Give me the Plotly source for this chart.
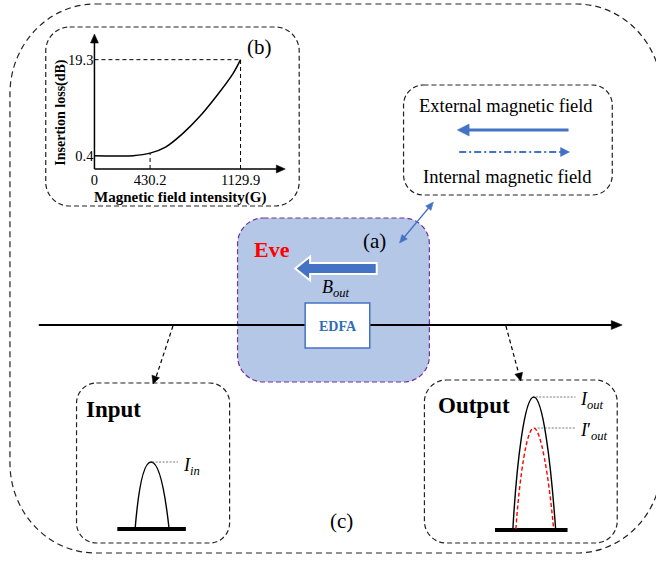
import plotly.graph_objects as go

# ---- inset (b): insertion loss vs. magnetic field intensity ----
mag_field = [0, 150, 300, 430.2, 550, 680, 810, 940, 1070, 1129.9]
insertion_loss = [0.4, 0.35, 0.4, 0.9, 2.1, 4.7, 8.0, 12.0, 16.5, 19.3]
x_tick_vals = [0, 430.2, 1129.9]
x_tick_text = ["0", "430.2", "1129.9"]
y_tick_vals = [0.4, 19.3]
y_tick_text = ["0.4", "19.3"]
knee_field = 430.2
knee_loss = 0.9
max_field = 1129.9
max_loss = 19.3

W, H = 656, 561
SERIF = "Liberation Serif, Times New Roman, serif"
BLUE = "#4472C4"
K = 0.5523

# inset placement (pixels) and axis ranges
INSET_X = (91, 285)
INSET_Y = (169, 33)
INSET_XRANGE = (0, 1491)
INSET_YRANGE = (-2.22, 24.55)


def rrect(x0, y0, x1, y1, rx, ry=None):
    ry = rx if ry is None else ry
    return (
        f"M {x0+rx},{y0} L {x1-rx},{y0} "
        f"C {x1-rx+K*rx},{y0} {x1},{y0+ry-K*ry} {x1},{y0+ry} "
        f"L {x1},{y1-ry} "
        f"C {x1},{y1-ry+K*ry} {x1-rx+K*rx},{y1} {x1-rx},{y1} "
        f"L {x0+rx},{y1} "
        f"C {x0+rx-K*rx},{y1} {x0},{y1-ry+K*ry} {x0},{y1-ry} "
        f"L {x0},{y0+ry} "
        f"C {x0},{y0+ry-K*ry} {x0+rx-K*rx},{y0} {x0+rx},{y0} Z"
    )


def head(tip, src, length, half):
    tx, ty = tip
    dx, dy = tx - src[0], ty - src[1]
    n = (dx * dx + dy * dy) ** 0.5
    ux, uy = dx / n, dy / n
    bx, by = tx - length * ux, ty - length * uy
    px, py = -uy, ux
    return (f"M {tx},{ty} L {bx+half*px},{by+half*py} "
            f"L {bx-half*px},{by-half*py} Z")


shapes = []


def box(path, color="#222", width=1.2, dash="6px,4px", fill=None):
    shapes.append(dict(type="path", path=path, xref="x", yref="y",
                       line=dict(color=color, width=width, dash=dash),
                       fillcolor=fill if fill else "rgba(0,0,0,0)"))


def seg(x0, y0, x1, y1, color="black", width=1.2, dash="solid", xref="x", yref="y"):
    shapes.append(dict(type="line", x0=x0, y0=y0, x1=x1, y1=y1,
                       xref=xref, yref=yref,
                       line=dict(color=color, width=width, dash=dash)))


def tri(tip, src, length, half, color):
    shapes.append(dict(type="path", path=head(tip, src, length, half),
                       xref="x", yref="y", fillcolor=color,
                       line=dict(color=color, width=0.5)))


# outer frame (c)
box(rrect(6, 4, 662, 553, 86, 90), width=1.2, dash="6px,4px")
# frame (b)
box(rrect(42, 27, 297, 206, 24), width=1.2, dash="5px,3px")
# legend frame
box(rrect(402, 85, 612, 195, 20), width=1.2, dash="5px,3px")
# input / output frames
box(rrect(73, 383, 227, 543, 20), width=1.2, dash="5px,3px")
box(rrect(423, 380, 617, 543, 22), width=1.2, dash="5px,3px")
# Eve region (a)
box(rrect(235, 218, 428, 382, 26), color="#7030A0", width=1.2,
    dash="5px,3px", fill="#B4C7E7")

# fibre link with the EDFA
seg(35, 325, 613, 325, width=1.8)
tri((622, 325), (35, 325), 11, 4.5, "black")
shapes.append(dict(type="rect", x0=303, y0=303, x1=368, y1=348, xref="x", yref="y",
                   fillcolor="white", line=dict(color=BLUE, width=1.5)))

# block arrow B_out
shapes.append(dict(type="path", xref="x", yref="y",
                   path="M 375,263 L 308,263 L 308,256.5 L 293,268.5 L 308,280.5 "
                        "L 308,274 L 375,274 Z",
                   fillcolor=BLUE, line=dict(color="white", width=2)))

# double-headed link between (a) and the legend
seg(402, 238, 428, 207, color=BLUE, width=1.3)
tri((398, 243), (430, 204), 8, 3.5, BLUE)
tri((432, 202), (398, 243), 8, 3.5, BLUE)

# legend arrows
seg(568, 130, 464, 130, color=BLUE, width=3)
tri((456, 130), (568, 130), 12, 6, BLUE)
seg(458, 152, 561, 152, color=BLUE, width=1.8, dash="7px,3px,2px,3px")
tri((569, 152), (458, 152), 9, 4.5, BLUE)

# taps to the input / output panels
seg(170, 326, 153, 377, width=1.2, dash="4px,3px")
tri((150, 384), (170, 326), 8, 4, "black")
seg(505, 326, 518, 374, width=1.2, dash="4px,3px")
tri((520, 381), (505, 326), 8, 4, "black")

# input pulse
seg(114, 529, 183, 529, width=4)
shapes.append(dict(type="path", xref="x", yref="y",
                   path="M 132,528 C 135,492 140,462 148,462 C 156,462 162,492 166,528",
                   line=dict(color="black", width=1.4)))
seg(149, 462, 175, 462, color="#555", width=0.8, dash="2px,1.5px")

# output pulses
seg(494, 530, 567, 530, width=4)
shapes.append(dict(type="path", xref="x", yref="y",
                   path="M 512,529 C 516,460 524,397 533,397 C 542,397 550,460 555,529",
                   line=dict(color="black", width=1.4)))
shapes.append(dict(type="path", xref="x", yref="y",
                   path="M 515,529 C 519,475 526,428 533,428 C 540,428 548,475 553,529",
                   line=dict(color="red", width=1.4, dash="4px,2.5px")))
seg(535, 397, 575, 397, color="#555", width=0.8, dash="2px,1.5px")
seg(537, 428, 575, 428, color="#555", width=0.8, dash="2px,1.5px")

# inset axes drawn as arrows from the origin corner
ox, oy = INSET_X[0], INSET_Y[0]
seg(ox, oy, ox, 40, width=1.5)
tri((ox, 34), (ox, oy), 9, 4, "black")
seg(ox, oy, 276, oy, width=1.5)
tri((283, oy), (ox, oy), 9, 4, "black")

# inset guide lines
seg(0, max_loss, max_field, max_loss, width=1, dash="4px,3px", xref="x2", yref="y2")
seg(max_field, INSET_YRANGE[0], max_field, max_loss, width=1, dash="4px,3px",
    xref="x2", yref="y2")
seg(knee_field, INSET_YRANGE[0], knee_field, knee_loss, width=1, dash="4px,3px",
    xref="x2", yref="y2")

fig = go.Figure()
fig.add_trace(go.Scatter(x=mag_field, y=insertion_loss, mode="lines",
                         line=dict(color="black", width=1.5, shape="spline"),
                         xaxis="x2", yaxis="y2", hoverinfo="skip",
                         showlegend=False, cliponaxis=False))


def txt(x, y, s, size=17, color="black", bold=False, angle=0, xanchor="center"):
    return dict(x=x, y=y, xref="x", yref="y", text=f"<b>{s}</b>" if bold else s,
                showarrow=False, textangle=angle, xanchor=xanchor, yanchor="middle",
                font=dict(family=SERIF, size=size, color=color))


annotations = [
    txt(257, 47, "(b)", 21),
    txt(505, 106, "External magnetic field", 18.5),
    txt(507, 177, "Internal magnetic field", 18.5),
    txt(270, 249, "Eve", 22, "red", True),
    txt(373, 241, "(a)", 21),
    txt(334, 288, "<i>B</i><sub><i>out</i></sub>", 18),
    txt(336, 326, "EDFA", 14, "#2E6DB8", True),
    txt(110, 409, "Input", 23, bold=True),
    txt(178, 466, "<i>I</i><sub><i>in</i></sub>", 18, xanchor="left"),
    txt(473, 405, "Output", 23, bold=True),
    txt(578, 400, "<i>I</i><sub><i>out</i></sub>", 18, xanchor="left"),
    txt(578, 431, "<i>I</i>′<sub><i>out</i></sub>", 18, xanchor="left"),
    txt(340, 521, "(c)", 21),
    txt(57, 112, "Insertion loss(dB)", 14, bold=True, angle=-90),
    txt(177, 197, "Magnetic field intensity(G)", 15, bold=True),
]

fig.update_layout(
    width=W, height=H,
    margin=dict(l=0, r=0, t=0, b=0),
    paper_bgcolor="white", plot_bgcolor="rgba(0,0,0,0)",
    showlegend=False,
    xaxis=dict(domain=[0, 1], range=[0, W], visible=False, fixedrange=True),
    yaxis=dict(domain=[0, 1], range=[H, 0], visible=False, fixedrange=True),
    xaxis2=dict(domain=[INSET_X[0] / W, INSET_X[1] / W], range=list(INSET_XRANGE),
                anchor="y2", showgrid=False, zeroline=False, showline=False, ticks="",
                tickvals=x_tick_vals, ticktext=x_tick_text,
                tickfont=dict(family=SERIF, size=14.5, color="black")),
    yaxis2=dict(domain=[1 - INSET_Y[0] / H, 1 - INSET_Y[1] / H], range=list(INSET_YRANGE),
                anchor="x2", showgrid=False, zeroline=False, showline=False, ticks="",
                tickvals=y_tick_vals, ticktext=y_tick_text,
                tickfont=dict(family=SERIF, size=14.5, color="black")),
    shapes=shapes,
    annotations=annotations,
)

fig.write_html("out.html")
